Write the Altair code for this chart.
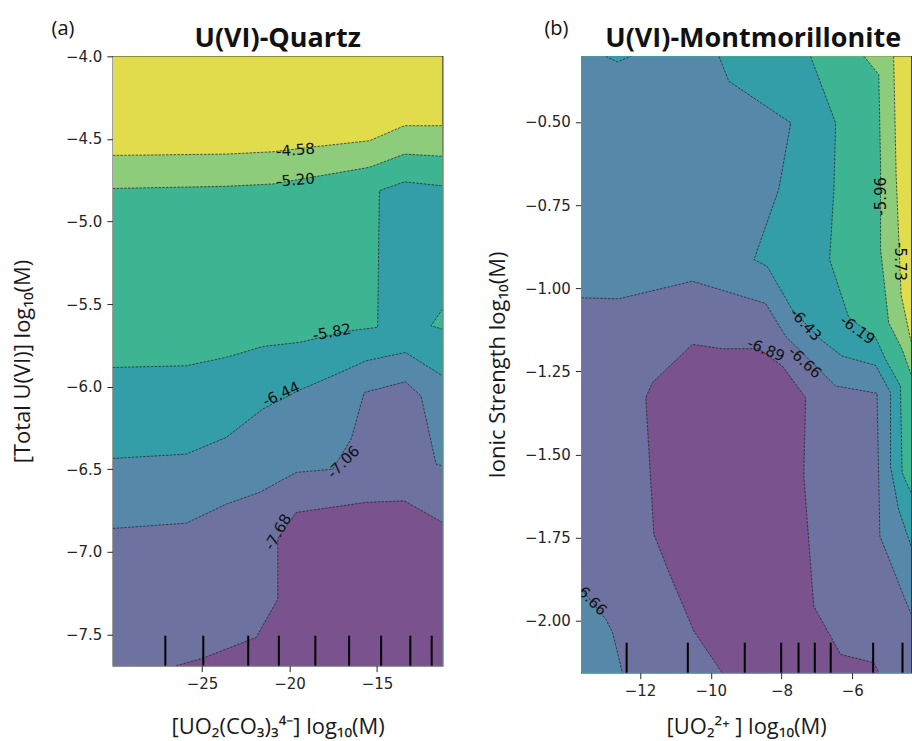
import altair as alt
import pandas as pd

# ---------------- colours of the filled bands (lowest -> highest) ----------------
BAND_COLORS = ["#7A528E", "#6E72A0", "#5689A9", "#349EA8", "#3EB592", "#8DCC7B", "#E1DC4B"]
LINE_COLOR = "#1e1e1e"

# ---------------- panel (a): U(VI)-Quartz ----------------
A_XDOM = [-30.1, -11.25]
A_YDOM = [-7.69, -4.0]
A_XTICKS = [-25, -20, -15]
A_YTICKS = [-7.5, -7.0, -6.5, -6.0, -5.5, -5.0, -4.5, -4.0]
A_RUG = [-27.1, -24.93, -22.36, -20.61, -18.52, -16.59, -14.76, -13.09, -11.87]

A_C458 = [(-30.1, -4.60), (-23.62, -4.592), (-20.97, -4.578), (-18.69, -4.549),
          (-15.43, -4.511), (-13.43, -4.42), (-11.25, -4.42)]
A_C520 = [(-30.1, -4.80), (-23.62, -4.787), (-20.96, -4.773), (-15.43, -4.672),
          (-13.43, -4.592), (-11.25, -4.605)]
A_C582 = [(-30.1, -5.884), (-25.91, -5.874), (-23.62, -5.823), (-21.53, -5.757),
          (-19.43, -5.732), (-16.57, -5.662), (-14.96, -5.641), (-14.86, -4.814),
          (-13.43, -4.760), (-11.25, -4.784)]
A_C582_TRI = [(-11.25, -5.531), (-11.91, -5.632), (-11.25, -5.652)]
A_C644 = [(-30.1, -6.435), (-25.91, -6.409), (-23.62, -6.308), (-21.53, -6.136),
          (-19.43, -6.021), (-17.53, -5.935), (-15.62, -5.844), (-13.37, -5.793),
          (-11.25, -5.935)]
A_C706 = [(-30.1, -6.859), (-25.91, -6.827), (-23.62, -6.712), (-21.72, -6.641),
          (-19.62, -6.520), (-17.53, -6.500), (-16.48, -6.318), (-15.72, -6.035),
          (-13.37, -5.971), (-12.48, -6.056), (-11.62, -6.469), (-11.25, -6.480)]
A_C768 = [(-26.48, -7.69), (-24.96, -7.645), (-21.91, -7.519), (-20.67, -7.287),
          (-20.67, -6.92), (-19.62, -6.762), (-15.62, -6.701), (-13.43, -6.692),
          (-11.25, -6.823)]

A_LABEL_TEXT = ["-4.58", "-5.20", "-5.82", "-6.44", "-7.06", "-7.68"]
A_LABEL_X = [-19.66, -19.66, -17.57, -20.48, -16.92, -20.67]
A_LABEL_Y = [-4.568, -4.749, -5.670, -6.045, -6.457, -6.881]
A_LABEL_ANGLE = [355, 355, 350, 335, 315, 300]

# ---------------- panel (b): U(VI)-Montmorillonite ----------------
B_XDOM = [-13.66, -4.34]
B_YDOM = [-2.156, -0.303]
B_XTICKS = [-12, -10, -8, -6]
B_YTICKS = [-2.0, -1.75, -1.5, -1.25, -1.0, -0.75, -0.5]
B_RUG = [-12.38, -10.65, -9.04, -8.01, -7.52, -7.06, -6.61, -5.41, -4.58]

B_C573 = [(-4.83, -0.303), (-4.76, -0.66), (-4.62, -1.02), (-4.34, -1.16)]
B_C596 = [(-5.67, -0.303), (-5.25, -0.358), (-5.20, -0.633), (-5.20, -0.884),
          (-4.97, -1.104), (-4.59, -1.184), (-4.34, -1.259)]
B_C619 = [(-7.18, -0.303), (-6.47, -0.503), (-6.52, -0.703), (-6.64, -0.914),
          (-6.10, -1.088), (-5.34, -1.148), (-5.06, -1.214), (-4.64, -1.294),
          (-4.59, -1.555), (-4.34, -1.615)]
B_C643 = [(-9.77, -0.303), (-9.49, -0.378), (-7.74, -0.503), (-8.08, -0.703),
          (-8.78, -0.914), (-8.41, -0.934), (-7.70, -1.064), (-6.90, -1.154),
          (-6.29, -1.204), (-5.34, -1.232), (-4.92, -1.314), (-4.92, -1.535),
          (-4.69, -1.665), (-4.34, -1.775)]
B_C643_BUMP = [(-12.97, -0.303), (-12.64, -0.320), (-12.26, -0.303)]
B_C666 = [(-13.66, -1.029), (-12.60, -1.032), (-10.52, -0.979), (-8.45, -1.046),
          (-7.89, -1.144), (-6.47, -1.294), (-5.30, -1.316), (-5.22, -1.745),
          (-4.34, -1.98)]
B_C666_CORNER = [(-13.66, -1.905), (-12.97, -1.995), (-12.78, -2.035), (-12.50, -2.156)]
B_C689 = [(-9.68, -2.156), (-10.48, -2.031), (-11.18, -1.855), (-11.61, -1.740),
          (-11.84, -1.329), (-11.65, -1.284), (-10.52, -1.169), (-9.68, -1.182),
          (-8.64, -1.182), (-7.98, -1.234), (-7.32, -1.329), (-7.37, -1.565),
          (-7.09, -1.956), (-6.33, -2.101), (-5.39, -2.126), (-5.25, -2.156)]

B_LABEL_TEXT = ["-5.73", "-5.96", "-6.19", "-6.43", "-6.66", "-6.89", "-6.66"]
B_LABEL_X = [-4.64, -5.20, -5.85, -7.32, -7.34, -8.44, -13.40]
B_LABEL_Y = [-0.92, -0.724, -1.125, -1.109, -1.223, -1.185, -1.935]
B_LABEL_ANGLE = [90, 270, 36, 48, 43, 22, 45]


def to_df(points):
    return pd.DataFrame({"x": [p[0] for p in points],
                         "y": [p[1] for p in points],
                         "i": list(range(len(points)))})


def make_panel(xdom, ydom, polys, lines, labels, rug, w, h, xticks, yticks,
               xfmt, yfmt, xtitle, ytitle, title, tag, tag_x, ytp, xtp, title_dx):
    xenc = alt.X("x:Q", scale=alt.Scale(domain=xdom, nice=False, zero=False),
                 axis=alt.Axis(values=xticks, format=xfmt, title=xtitle, titlePadding=xtp))
    yenc = alt.Y("y:Q", scale=alt.Scale(domain=ydom, nice=False, zero=False),
                 axis=alt.Axis(values=yticks, format=yfmt, title=ytitle, titlePadding=ytp))
    layers = []
    for pts, col in polys:
        layers.append(
            alt.Chart(to_df(pts)).mark_line(fill=col, strokeWidth=0, interpolate="linear-closed",
                                            clip=True)
            .encode(x=xenc, y=yenc, order="i:Q")
        )
    rows = []
    for k, ln in enumerate(lines):
        for i, (x, y) in enumerate(ln):
            rows.append({"x": x, "y": y, "i": i, "id": k})
    layers.append(
        alt.Chart(pd.DataFrame(rows)).mark_line(stroke=LINE_COLOR, strokeWidth=0.7,
                                                strokeDash=[2.5, 1.3], clip=True)
        .encode(x=xenc, y=yenc, detail="id:N", order="i:Q")
    )
    texts, lx, ly, la = labels
    layers.append(
        alt.Chart(pd.DataFrame({"x": lx, "y": ly, "t": texts, "a": la}))
        .mark_text(font="DejaVu Sans", fontSize=15, color="#111111", clip=True)
        .encode(x=xenc, y=yenc, text="t:N", angle=alt.Angle("a:Q", scale=None))
    )
    layers.append(
        alt.Chart(pd.DataFrame({"x": rug})).mark_rule(color="black", strokeWidth=2)
        .encode(x=xenc, y=alt.value(h), y2=alt.value(h - 30))
    )
    layers.append(
        alt.Chart(pd.DataFrame({"t": [tag]})).mark_text(font="Open Sans", fontSize=20,
                                                        align="center", baseline="middle",
                                                        color="#111111")
        .encode(text="t:N", x=alt.value(tag_x), y=alt.value(-27))
    )
    return alt.layer(*layers).properties(
        width=w, height=h,
        title=alt.TitleParams(title, font="Open Sans", fontSize=27, fontWeight="bold",
                              color="#111111", anchor="middle", offset=-34, dx=title_dx),
    )


def below(line, xd, yd):
    return line + [(xd[1], yd[0]), (xd[0], yd[0])]


def left_of(line, xd, yd):
    return line + [(xd[1], yd[0]), (xd[0], yd[0]), (xd[0], yd[1])]


def rect(xd, yd):
    return [(xd[0], yd[0]), (xd[1], yd[0]), (xd[1], yd[1]), (xd[0], yd[1])]


a_polys = [
    (rect(A_XDOM, A_YDOM), BAND_COLORS[6]),
    (below(A_C458, A_XDOM, A_YDOM), BAND_COLORS[5]),
    (below(A_C520, A_XDOM, A_YDOM), BAND_COLORS[4]),
    (below(A_C582, A_XDOM, A_YDOM), BAND_COLORS[3]),
    (A_C582_TRI, BAND_COLORS[4]),
    (below(A_C644, A_XDOM, A_YDOM), BAND_COLORS[2]),
    (below(A_C706, A_XDOM, A_YDOM), BAND_COLORS[1]),
    (A_C768 + [(A_XDOM[1], A_YDOM[0])], BAND_COLORS[0]),
]
a_lines = [A_C458, A_C520, A_C582, A_C582_TRI, A_C644, A_C706, A_C768]

b_polys = [
    (rect(B_XDOM, B_YDOM), BAND_COLORS[6]),
    (left_of(B_C573, B_XDOM, B_YDOM), BAND_COLORS[5]),
    (left_of(B_C596, B_XDOM, B_YDOM), BAND_COLORS[4]),
    (left_of(B_C619, B_XDOM, B_YDOM), BAND_COLORS[3]),
    (left_of(B_C643, B_XDOM, B_YDOM), BAND_COLORS[2]),
    (B_C643_BUMP, BAND_COLORS[3]),
    (B_C666 + [(B_XDOM[1], B_YDOM[0])] + B_C666_CORNER[::-1], BAND_COLORS[1]),
    (B_C689, BAND_COLORS[0]),
]
b_lines = [B_C573, B_C596, B_C619, B_C643, B_C643_BUMP, B_C666, B_C666_CORNER, B_C689]

panel_a = make_panel(A_XDOM, A_YDOM, a_polys, a_lines,
                     (A_LABEL_TEXT, A_LABEL_X, A_LABEL_Y, A_LABEL_ANGLE), A_RUG,
                     330, 610, A_XTICKS, A_YTICKS, "d", ".1f",
                     "[UO₂(CO₃)₃⁴⁻] log₁₀(M)", "[Total U(VI)] log₁₀(M)",
                     "U(VI)-Quartz", "(a)", -50, 31, 25, 0)
panel_b = make_panel(B_XDOM, B_YDOM, b_polys, b_lines,
                     (B_LABEL_TEXT, B_LABEL_X, B_LABEL_Y, B_LABEL_ANGLE), B_RUG,
                     330, 617, B_XTICKS, B_YTICKS, "d", ".2f",
                     "[UO₂²⁺ ] log₁₀(M)", "Ionic Strength log₁₀(M)",
                     "U(VI)-Montmorillonite", "(b)", -25, 15, 18, 7)

chart = alt.hconcat(panel_a, panel_b, spacing=42).properties(
    padding={"left": 10, "top": 18, "right": 0, "bottom": 0},
    background="white",
).configure_view(
    stroke="#222222", strokeWidth=1.2
).configure_axis(
    labelFont="DejaVu Sans", labelFontSize=15, labelColor="#262626",
    tickColor="#262626", tickSize=6, tickWidth=1, labelPadding=5,
    domain=False, grid=False,
    titleFont="Open Sans", titleFontSize=22, titleFontWeight="normal", titleColor="#1a1a1a",
)

chart.save("out.html", embed_options={"renderer": "svg", "actions": False})
